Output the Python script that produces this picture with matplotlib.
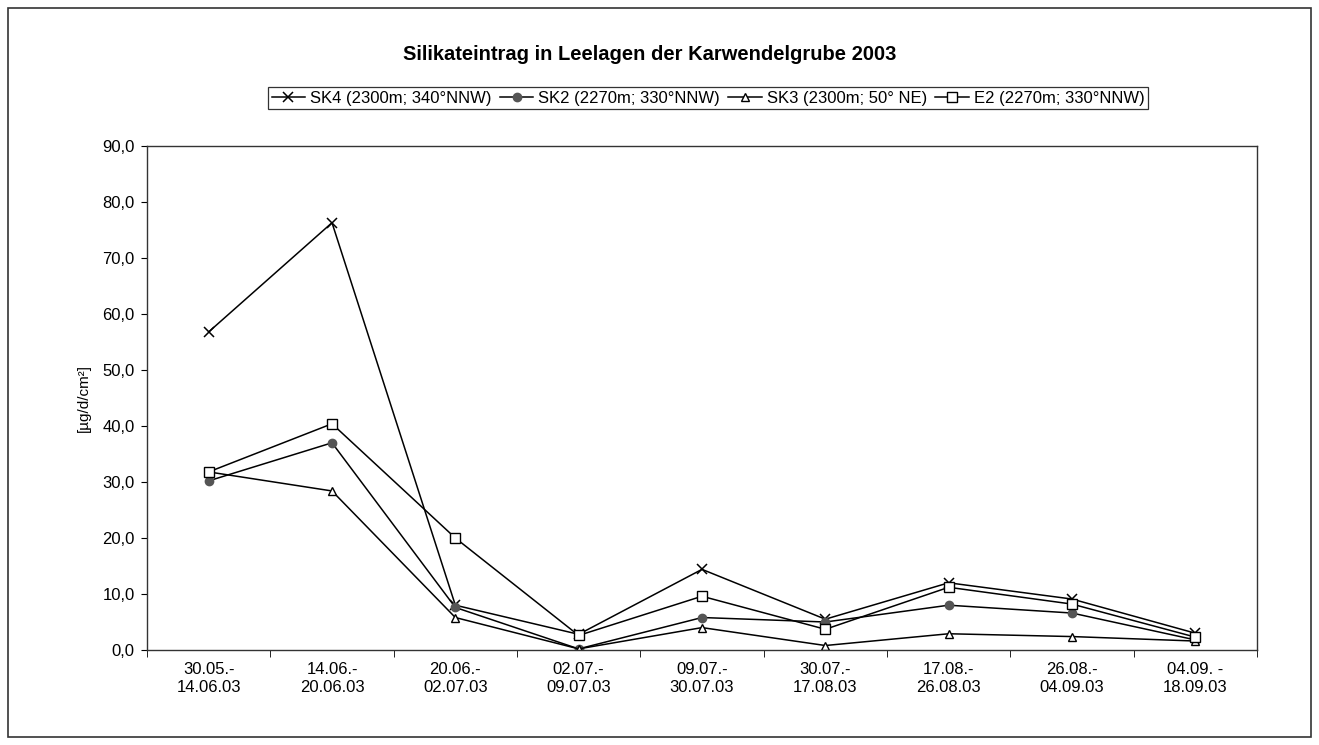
import matplotlib.pyplot as plt
from matplotlib.patches import Rectangle

plt.rcParams['font.family'] = ['Liberation Sans', 'DejaVu Sans']

# categories (sampling periods)
periods = ['30.05.-\n14.06.03', '14.06.-\n20.06.03', '20.06.-\n02.07.03',
           '02.07.-\n09.07.03', '09.07.-\n30.07.03', '30.07.-\n17.08.03',
           '17.08.-\n26.08.03', '26.08.-\n04.09.03', '04.09. -\n18.09.03']

sk4 = [56.8, 76.3, 8.0, 2.8, 14.4, 5.5, 12.0, 9.1, 3.0]
sk2 = [30.2, 37.0, 7.6, 0.2, 5.8, 5.0, 8.0, 6.6, 1.8]
sk3 = [31.8, 28.4, 5.8, 0.2, 4.0, 0.8, 2.9, 2.4, 1.6]
e2 = [31.8, 40.4, 20.0, 2.6, 9.6, 3.7, 11.2, 8.2, 2.3]

labels = ['SK4 (2300m; 340°NNW)', 'SK2 (2270m; 330°NNW)',
          'SK3 (2300m; 50° NE)', 'E2 (2270m; 330°NNW)']

fig = plt.figure(figsize=(13.19, 7.45), dpi=100)
ax = fig.add_axes([147 / 1319, 1 - 650 / 745, 1110 / 1319, 504 / 745])

x = list(range(len(periods)))
ax.plot(x, sk4, color='black', lw=1.1, marker='x', ms=7, mew=1.1, label=labels[0])
ax.plot(x, sk2, color='black', lw=1.1, marker='o', ms=6, mfc='#555555', mec='#555555', label=labels[1])
ax.plot(x, sk3, color='black', lw=1.1, marker='^', ms=6, mfc='white', mec='black', label=labels[2])
ax.plot(x, e2, color='black', lw=1.1, marker='s', ms=7, mfc='white', mec='black', label=labels[3])

ax.set_xlim(-0.5, len(periods) - 0.5)
ax.set_ylim(0, 90)
ax.set_yticks(range(0, 91, 10))
ax.set_yticklabels([f'{v},0' for v in range(0, 91, 10)], fontsize=12)
ax.set_xticks(x)
ax.set_xticklabels(periods, fontsize=12, linespacing=1.2)
ax.tick_params(axis='x', length=0, pad=9)
ax.set_xticks([i + 0.5 for i in range(-1, len(periods))], minor=True)
ax.tick_params(axis='x', which='minor', length=5, direction='out')
ax.tick_params(axis='y', length=4, direction='out', pad=5)
for s in ax.spines.values():
    s.set_linewidth(1.0)
    s.set_color('#333333')
ax.set_ylabel('[µg/d/cm²]', fontsize=11, labelpad=8)

fig.text(650 / 1319, 1 - 54 / 745, 'Silikateintrag in Leelagen der Karwendelgrube 2003',
         ha='center', va='center', fontsize=14.5, fontweight='bold')

leg = fig.legend(loc='center', bbox_to_anchor=(708 / 1319, 1 - 98 / 745), ncol=4,
                 fontsize=12, frameon=True, fancybox=False, handlelength=2.0,
                 handletextpad=0.3, columnspacing=0.5, borderpad=0.2, borderaxespad=0)
leg.get_frame().set_edgecolor('black')
leg.get_frame().set_linewidth(0.9)

# outer chart frame
fig.patches.append(Rectangle((8 / 1319, 8 / 745), 1303 / 1319, 729 / 745,
                             transform=fig.transFigure, fill=False,
                             edgecolor='#333333', lw=1.2))

fig.savefig('out.png', dpi=100)
